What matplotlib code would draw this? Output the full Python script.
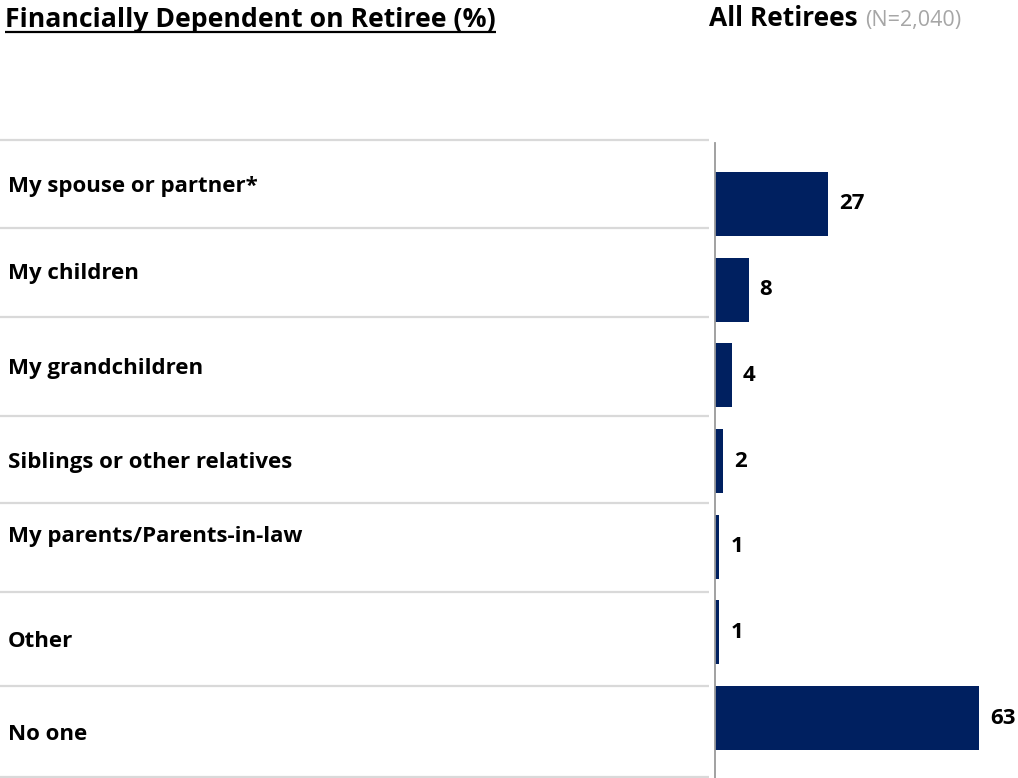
import matplotlib
matplotlib.use("Agg")
import matplotlib.pyplot as plt

plt.rcParams["font.family"] = ["Open Sans", "DejaVu Sans"]

# Survey answers, top to bottom
categories = [
    "My spouse or partner*",
    "My children",
    "My grandchildren",
    "Siblings or other relatives",
    "My parents/Parents-in-law",
    "Other",
    "No one",
]
values = [27, 8, 4, 2, 1, 1, 63]

title = "Financially Dependent on Retiree (%)"
group_label = "All Retirees"
sample_label = "(N=2,040)"

NAVY = "#002060"
GRID = "#d9d9d9"

W, H = 1018, 778
fig = plt.figure(figsize=(W / 100, H / 100), dpi=100)

# Background layer in pixel units: header, row labels and separators
bg = fig.add_axes([0, 0, 1, 1])
bg.set_xlim(0, W)
bg.set_ylim(H, 0)
bg.axis("off")

t = bg.text(5, 27, title, fontsize=19.2, fontweight="bold", va="baseline", ha="left")
g = bg.text(709, 26, group_label, fontsize=19, fontweight="bold", va="baseline", ha="left")
fig.canvas.draw()

# underline the title, then put the sample size right after the group label
bb = t.get_window_extent()
bg.plot([5, 5 + bb.width], [31.5, 31.5], color="black", lw=1.6, solid_capstyle="butt")
gx1 = bg.transData.inverted().transform(g.get_window_extent())[1, 0]
bg.text(gx1 + 8, 26, sample_label, fontsize=15.5, color="#a6a6a6", va="baseline", ha="left")

separators = [140, 228, 317, 416, 503, 592, 686, 777]
for y in separators:
    bg.plot([0, 709], [y, y], color=GRID, lw=1.6, solid_capstyle="butt")

label_baselines = [192, 279, 374, 468, 542, 647, 740]
for name, y in zip(categories, label_baselines):
    bg.text(8, y, name, fontsize=16, fontweight="bold", va="baseline", ha="left")

# Bar panel
px_per_unit = 4.19
xmax = 72
left = 715
top, bottom = 143, 778
ax = fig.add_axes([left / W, 0, xmax * px_per_unit / W, (bottom - top) / H])
ax.set_facecolor("none")

pos = list(range(len(categories)))
bars = ax.barh(pos, values, height=0.747, color=NAVY)
ax.set_xlim(0, xmax)
ax.set_ylim(6.70, -0.712)
ax.bar_label(bars, labels=[str(v) for v in values], padding=8,
             fontsize=16, fontweight="bold", color="black")

for side in ["top", "right", "bottom"]:
    ax.spines[side].set_visible(False)
ax.spines["left"].set_color("#9a9a9a")
ax.spines["left"].set_linewidth(1.3)
ax.set_xticks([])
ax.set_yticks([])

fig.savefig("out.png", dpi=100)
